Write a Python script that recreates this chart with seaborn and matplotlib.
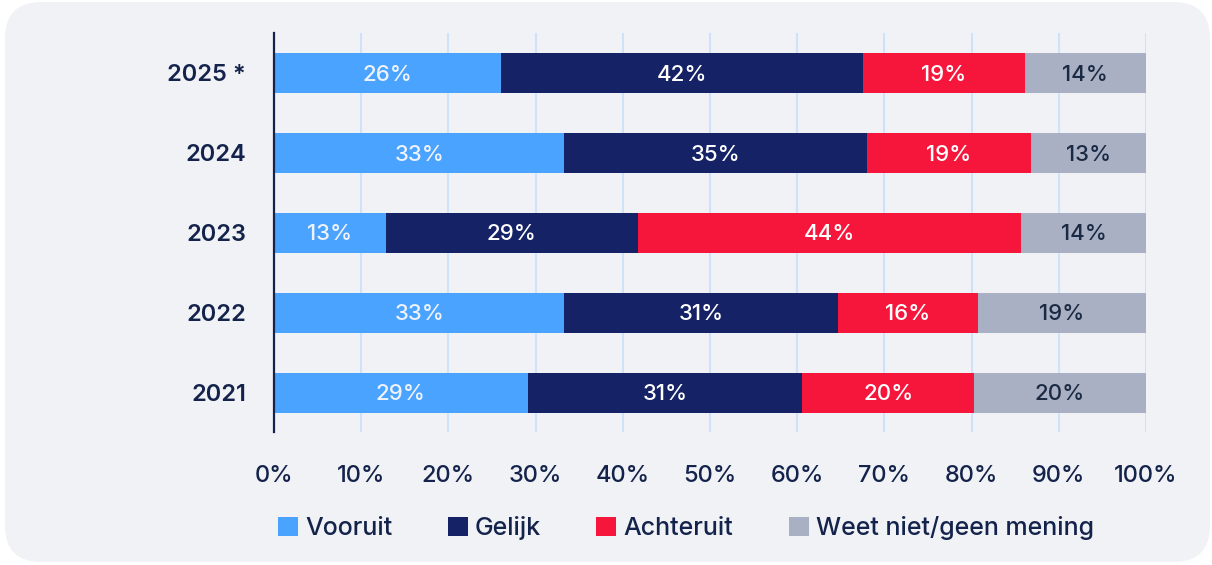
import numpy as np
import pandas as pd
import matplotlib.pyplot as plt
import seaborn as sns
from matplotlib.patches import FancyBboxPatch, Patch

years = ['2025 *', '2024', '2023', '2022', '2021']
vooruit = [26.0, 33.3, 12.8, 33.3, 29.1]
gelijk = [41.5, 34.7, 28.9, 31.4, 31.5]
achteruit = [18.6, 18.8, 44.0, 16.0, 19.7]
weet_niet = [13.9, 13.2, 14.3, 19.3, 19.7]
labels_vooruit = [26, 33, 13, 33, 29]
labels_gelijk = [42, 35, 29, 31, 31]
labels_achteruit = [19, 19, 44, 16, 20]
labels_weet = [14, 13, 14, 19, 20]

series = ['Vooruit', 'Gelijk', 'Achteruit', 'Weet niet/geen mening']
colors = ['#4aa3ff', '#152266', '#f7163b', '#a9b0c4']
text_colors = ['#eef2fa', 'white', 'white', '#1b2a44']
navy = '#14234b'

df = pd.DataFrame({'year': years, 'Vooruit': vooruit, 'Gelijk': gelijk,
                   'Achteruit': achteruit, 'Weet niet/geen mening': weet_niet})
cum = df[series].cumsum(axis=1)

sns.set_style('white')
plt.rcParams['font.family'] = ['Inter', 'DejaVu Sans']

fig = plt.figure(figsize=(12.12, 5.65), dpi=100, facecolor='white')
bg = FancyBboxPatch((5 / 1212, 3 / 565), 1205 / 1212, 560 / 565,
                    boxstyle='round,pad=0,rounding_size=0.03',
                    transform=fig.transFigure, facecolor='#f1f2f6',
                    edgecolor='none', zorder=-10, mutation_aspect=1212 / 565)
fig.patches.append(bg)

ax = fig.add_axes([274 / 1212, 1 - 432 / 565, 872 / 1212, 399 / 565])
ax.set_facecolor('none')

for x in range(10, 101, 10):
    ax.axvline(x, color='#cfe3f8', lw=1.5, zorder=0)

# stacked bars: draw cumulative totals from the back to the front
for s, c in reversed(list(zip(series, colors))):
    sns.barplot(x=cum[s], y=df['year'], color=c, orient='h', width=0.5,
                ax=ax, zorder=2, saturation=1, linewidth=0)

all_labels = [labels_vooruit, labels_gelijk, labels_achteruit, labels_weet]
for j, s in enumerate(series):
    starts = cum[s] - df[s]
    for i in range(len(years)):
        mid = starts[i] + df[s][i] / 2
        ax.text(mid, i + 0.02, f'{all_labels[j][i]}%', ha='center', va='center',
                color=text_colors[j], fontsize=16, fontweight='medium', zorder=3)

ax.set_xlim(0, 100)
ax.set_ylim(4.49, -0.5)
ax.set_xticks(range(0, 101, 10))
ax.set_xticklabels([f'{x}%' for x in range(0, 101, 10)])
ax.tick_params(axis='x', length=0, pad=24, labelsize=17, labelcolor=navy)
ax.tick_params(axis='y', length=0, pad=20, labelsize=17, labelcolor=navy)
for lab in ax.get_yticklabels():
    lab.set_fontweight('semibold')
for lab in ax.get_xticklabels():
    lab.set_fontweight('medium')
ax.set_xlabel('')
ax.set_ylabel('')
for sp in ['top', 'right', 'bottom']:
    ax.spines[sp].set_visible(False)
ax.spines['left'].set_color(navy)
ax.spines['left'].set_linewidth(1.6)
ax.spines['left'].set_zorder(4)

handles = [Patch(facecolor=c, edgecolor='none') for c in colors]
fig.legend(handles, series, loc='center', bbox_to_anchor=(686 / 1212, 1 - 528 / 565),
           ncol=4, frameon=False, handlelength=0.8, handleheight=0.8,
           handletextpad=0.3, columnspacing=2.2, labelcolor=navy,
           prop={'size': 18, 'weight': 'medium'})

fig.savefig('out.png', dpi=100, facecolor='white')
